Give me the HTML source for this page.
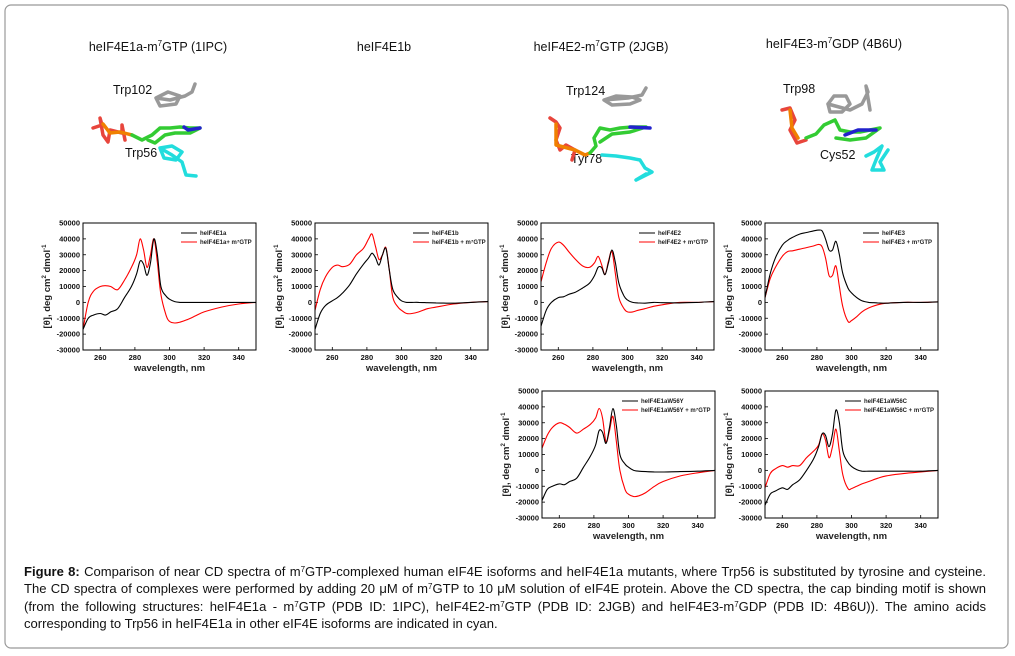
<!DOCTYPE html>
<html><head><meta charset="utf-8"><style>
body{margin:0;background:#fff;}
svg{display:block;font-family:"Liberation Sans",sans-serif;}
.cap{position:absolute;left:24px;top:563px;width:962px;font-family:"Liberation Sans",sans-serif;font-size:13.05px;line-height:17.3px;color:#111;text-align:justify;}
.cap sup{font-size:8px;line-height:0;vertical-align:4px;}
</style></head><body>
<div style="position:relative;width:1015px;height:656px;overflow:hidden">
<svg id="fig" width="1015" height="656">
<rect x="5" y="5" width="1003" height="643" rx="6" fill="#fff" stroke="#999" stroke-width="1.2"/>
<g font-family="Liberation Sans, sans-serif" font-size="12.5" fill="#111">
<text x="158" y="51" text-anchor="middle">heIF4E1a-m<tspan font-size="8" dy="-5">7</tspan><tspan dy="5">GTP (1IPC)</tspan></text>
<text x="384" y="51" text-anchor="middle">heIF4E1b</text>
<text x="601" y="51" text-anchor="middle">heIF4E2-m<tspan font-size="8" dy="-5">7</tspan><tspan dy="5">GTP (2JGB)</tspan></text>
<text x="834" y="48" text-anchor="middle">heIF4E3-m<tspan font-size="8" dy="-5">7</tspan><tspan dy="5">GDP (4B6U)</tspan></text>
<text x="113" y="94">Trp102</text>
<text x="125" y="157">Trp56</text>
<text x="566" y="95">Trp124</text>
<text x="571" y="163">Tyr78</text>
<text x="783" y="93">Trp98</text>
<text x="820" y="159">Cys52</text>
</g>
<g fill="none" stroke-width="3.5" stroke-linecap="round" stroke-linejoin="round">
<g>
<polyline stroke="#999" points="156,98 168,92 180,96 176,104 160,106 156,98 170,100 185,96 192,92 195,84"/>
<polyline stroke="#e8453c" points="93,128 102,125 100,118 103,135 108,142 110,130 122,133 122,125 125,140"/>
<polyline stroke="#f08000" points="103,124 110,133 120,132 132,135"/>
<polyline stroke="#3c3" points="132,135 142,140 152,135 160,128 170,128 180,127 190,128 200,128 190,133 175,133 165,135 155,143 148,140"/>
<polyline stroke="#22c" points="184,127 188,130 200,128"/>
<polyline stroke="#2dd" points="160,148 172,146 182,152 176,160 164,158 160,148 172,155 182,162 186,175 196,176"/>
</g>
<g>
<polyline stroke="#999" points="604,100 616,96 632,97 640,100 630,104 612,105 604,100 628,98 642,95 646,88"/>
<polyline stroke="#e8453c" points="550,118 556,122 560,128 556,140 560,150 566,145 575,150 572,160"/>
<polyline stroke="#f08000" points="556,124 556,145 575,150 585,155 590,153"/>
<polyline stroke="#3c3" points="590,153 596,146 594,138 600,128 610,130 620,128 632,127 646,127 630,132 612,134 600,142"/>
<polyline stroke="#22c" points="630,127 650,128"/>
<polyline stroke="#2dd" points="602,155 616,156 630,158 640,160 645,168 652,172 636,180 646,174"/>
</g>
<g>
<polyline stroke="#999" points="828,104 834,96 846,96 850,104 842,112 830,112 828,104 850,110 862,104 868,92 866,86 870,110"/>
<polyline stroke="#e8453c" points="782,110 790,108 795,120 790,130 797,143 806,140"/>
<polyline stroke="#f08000" points="790,110 792,128 798,138"/>
<polyline stroke="#3c3" points="806,138 816,134 824,125 835,120 840,130 850,132 860,132 870,130 880,128 866,138 850,140 836,138"/>
<polyline stroke="#22c" points="845,135 858,130 876,130"/>
<polyline stroke="#2dd" points="866,156 874,152 882,146 876,160 872,170 884,170 880,162 888,150"/>
</g>
</g>
<g id="charts"></g>
</svg>
<div class="cap"><b>Figure 8:</b> Comparison of near CD spectra of m<sup>7</sup>GTP-complexed human eIF4E isoforms and heIF4E1a mutants, where Trp56 is substituted by tyrosine and cysteine. The CD spectra of complexes were performed by adding 20 μM of m<sup>7</sup>GTP to 10 μM solution of eIF4E protein. Above the CD spectra, the cap binding motif is shown (from the following structures: heIF4E1a - m<sup>7</sup>GTP (PDB ID: 1IPC), heIF4E2-m<sup>7</sup>GTP (PDB ID: 2JGB) and heIF4E3-m<sup>7</sup>GDP (PDB ID: 4B6U)). The amino acids corresponding to Trp56 in heIF4E1a in other eIF4E isoforms are indicated in cyan.</div>
</div>
<script>
const wavelengths=[250,253,256,260,263,266,270,274,278,281,283,285,287,289,291,293,295,298,300,303,306,310,315,320,330,340,350];
const yTicks=[-30000,-20000,-10000,0,10000,20000,30000,40000,50000];
const xTicks=[260,280,300,320,340];
const e1aBlack=[-17000,-10000,-8000,-7000,-8000,-6000,-4000,3000,10000,18000,26000,24000,17000,25000,40000,30000,10000,4000,2000,500,0,0,0,0,0,0,0];
const e1aRed=[-17000,0,7000,10000,10500,10000,8000,14000,22000,30000,40000,33000,22000,30000,40000,25000,5000,-8000,-12000,-13000,-12500,-11000,-8500,-6000,-3000,-1000,0];
const e1bBlack=[-17000,-7000,-2000,1000,3000,6000,11000,18000,24000,28000,31000,28000,23500,30000,34000,20000,8000,3000,1000,0,0,0,-200,-300,-500,0,500];
const e1bRed=[-5000,8000,16000,22000,23500,22500,24000,30000,34000,40000,43000,35000,27000,30000,34500,20000,3000,-3000,-5000,-7000,-7000,-6000,-4000,-3000,-1000,0,500];
const e2Black=[-15000,-5000,0,3000,3500,5000,6500,9000,12000,17000,22000,22000,17500,25000,33000,25000,12000,4000,1500,0,-300,-500,0,-200,-300,0,500];
const e2Red=[13000,25000,34000,38000,36000,32000,27000,23000,22000,25000,29000,24000,17500,26000,32000,18000,3000,-4000,-6000,-6000,-5000,-4000,-2500,-1500,0,0,500];
const e3Black=[3000,18000,28000,36000,39000,41000,43000,44000,45000,45500,45000,40000,33000,33000,38500,30000,18000,9000,6000,3000,1000,0,-300,-500,0,0,300];
const e3Red=[3000,15000,22000,29000,32000,32500,33500,34500,35500,36500,35000,28000,17000,17000,23000,10000,-3000,-12000,-11500,-9000,-6000,-3500,-1500,-500,0,0,300];
const w56yBlack=[-19000,-12000,-10000,-8500,-9000,-7000,-5000,2000,9000,16000,25000,24000,17000,27000,39000,28000,10000,4000,2000,0,-500,-800,-1000,-1000,-800,-500,0];
const w56yRed=[14000,22000,27000,30000,29000,27000,23500,26000,29000,33000,39000,33000,18000,25000,34000,18000,0,-12000,-15000,-16500,-16000,-14000,-10000,-7000,-3500,-1500,0];
const w56cBlack=[-22000,-15000,-13000,-11000,-12000,-9000,-6000,0,7000,15000,23000,22000,15000,23000,38000,30000,12000,5000,2500,500,-500,-500,-500,-500,-500,-500,0];
const w56cRed=[-11000,-2000,1000,3000,2000,3000,3000,8000,12000,16000,23000,19000,8000,15000,26000,12000,-3000,-11500,-11500,-10000,-8500,-7000,-5000,-3500,-2000,-1000,0];
const legendNames=[["heIF4E1a","heIF4E1a+ m⁷GTP"],["heIF4E1b","heIF4E1b + m⁷GTP"],["heIF4E2","heIF4E2 + m⁷GTP"],["heIF4E3","heIF4E3 + m⁷GTP"],["heIF4E1aW56Y","heIF4E1aW56Y + m⁷GTP"],["heIF4E1aW56C","heIF4E1aW56C + m⁷GTP"]];
const panels=[
 {id:"heif4e1a",x:83,y:223,b:e1aBlack,r:e1aRed,l:0},
 {id:"heif4e1b",x:315,y:223,b:e1bBlack,r:e1bRed,l:1},
 {id:"heif4e2",x:541,y:223,b:e2Black,r:e2Red,l:2},
 {id:"heif4e3",x:765,y:223,b:e3Black,r:e3Red,l:3},
 {id:"w56y",x:542,y:391,b:w56yBlack,r:w56yRed,l:4},
 {id:"w56c",x:765,y:391,b:w56cBlack,r:w56cRed,l:5}];
const NS="http://www.w3.org/2000/svg";
const root=document.getElementById('charts');
function mk(t,a,p){const e=document.createElementNS(NS,t);for(const k in a)e.setAttribute(k,a[k]);p.appendChild(e);return e;}
function smooth(pts){
 let d='M'+pts[0][0].toFixed(1)+','+pts[0][1].toFixed(1);
 for(let i=0;i<pts.length-1;i++){
  const p0=pts[Math.max(0,i-1)],p1=pts[i],p2=pts[i+1],p3=pts[Math.min(pts.length-1,i+2)];
  const c1=[p1[0]+(p2[0]-p0[0])/6,p1[1]+(p2[1]-p0[1])/6],c2=[p2[0]-(p3[0]-p1[0])/6,p2[1]-(p3[1]-p1[1])/6];
  d+=`C${c1[0].toFixed(1)},${c1[1].toFixed(1)} ${c2[0].toFixed(1)},${c2[1].toFixed(1)} ${p2[0].toFixed(1)},${p2[1].toFixed(1)}`;
 }
 return d;
}
const W=173,H=127;
panels.forEach(p=>{
 const g=mk('g',{},root);
 
 
 const sx=v=>p.x+(v-250)/100*W, sy=v=>p.y+H-(v+30000)/80000*H;
 yTicks.forEach(t=>{
  const y=sy(t);
  mk('line',{x1:p.x,x2:p.x+3,y1:y,y2:y,stroke:'#000','stroke-width':0.8},g);
  const tx=mk('text',{x:p.x-3,y:y+2.5,'text-anchor':'end','font-size':7.5,'font-weight':'bold',fill:'#111'},g);
  tx.textContent=t;
  
  
 });
 xTicks.forEach(t=>{
  const x=sx(t);
  mk('line',{x1:x,x2:x,y1:p.y+H,y2:p.y+H-3,stroke:'#000','stroke-width':0.8},g);
  const tx=mk('text',{x:x,y:p.y+H+10,'text-anchor':'middle','font-size':7.5,'font-weight':'bold',fill:'#111'},g);
  tx.textContent=t;
  
  
 });
 const xt=mk('text',{x:p.x+W/2,y:p.y+H+21,'text-anchor':'middle','font-size':9.5,'font-weight':'bold',fill:'#222'},g);
 xt.textContent='wavelength, nm';
 
 
 const yt=mk('text',{transform:`translate(${p.x-33},${p.y+H/2}) rotate(-90)`,'text-anchor':'middle','font-size':9.5,'font-weight':'bold',fill:'#222'},g);
 yt.innerHTML='[θ], deg cm<tspan font-size="6" dy="-4">2</tspan><tspan dy="4"> dmol</tspan><tspan font-size="6" dy="-4">-1</tspan>';
 
 
 [[p.r,'#f00','red'],[p.b,'#000','black']].forEach(([arr,c,n])=>{
  const pts=wavelengths.map((w,i)=>[sx(w),sy(arr[i])]);
  const pl=mk('path',{d:smooth(pts),fill:'none',stroke:c,'stroke-width':1.1},g);
  
  
 });
 mk('rect',{x:p.x,y:p.y,width:W,height:H,fill:'none',stroke:'#000','stroke-width':1},g);
 const lg=mk('g',{},g);
 
 
 const lx=p.x+(p.l>=4?80:98);
 [['#000',0],['#f00',1]].forEach(([c,i])=>{
  const ly=p.y+10+i*9;
  mk('line',{x1:lx,x2:lx+16,y1:ly,y2:ly,stroke:c,'stroke-width':1},lg);
  const t=mk('text',{x:lx+19,y:ly+2,'font-size':6,'font-weight':'bold',fill:'#222'},lg);
  t.textContent=legendNames[p.l][i];
  
  
 });
});
</script>
</body></html>
